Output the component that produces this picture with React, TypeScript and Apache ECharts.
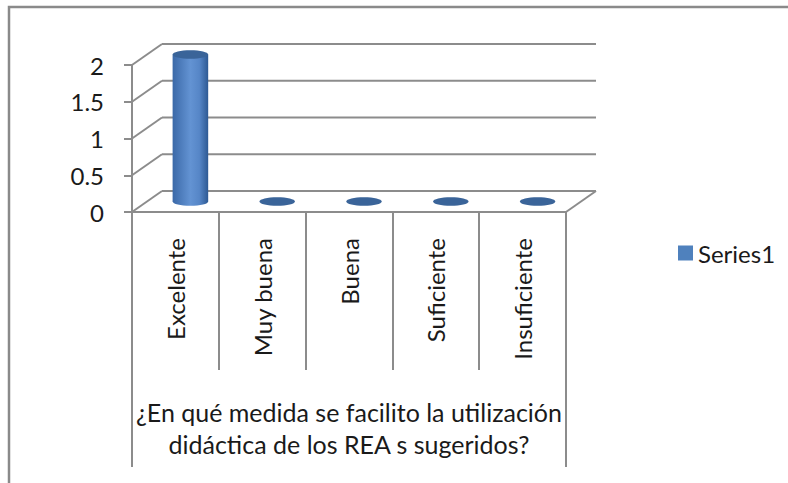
import React, { useEffect, useRef } from "react";
import * as echarts from "echarts";

const CATEGORIES = ["Excelente", "Muy buena", "Buena", "Suficiente", "Insuficiente"];
const SERIES_NAME = "Series1";
const VALUES = [2, 0, 0, 0, 0];
const Y_TICKS = [0, 0.5, 1, 1.5, 2];
const AXIS_TITLE = "¿En qué medida se facilito la utilización\ndidáctica de los REA s sugeridos?";

const DX = 30;
const DY = -21;
const LINE = "#8c8c8c";
const FONT = "Lato, 'Open Sans', sans-serif";
const TEXT = "#1a1a1a";

export default function App() {
  const ref = useRef<HTMLDivElement>(null);
  useEffect(() => {
    if (!ref.current) return;
    const chart = echarts.init(ref.current, undefined, { renderer: "svg" });
    const n = CATEGORIES.length;
    const bodyGrad = new echarts.graphic.LinearGradient(0, 0, 1, 0, [
      { offset: 0, color: "#3b69a8" },
      { offset: 0.5, color: "#6393d3" },
      { offset: 0.75, color: "#5686c7" },
      { offset: 1, color: "#2d5993" },
    ]);
    const option: any = {
      animation: false,
      backgroundColor: "#ffffff",
      textStyle: { fontFamily: FONT },
      graphic: [
        {
          type: "rect",
          shape: { x: 9, y: 7, width: 900, height: 600 },
          style: { fill: "none", stroke: "#8a8a8a", lineWidth: 2.5 },
          silent: true,
        },
      ],
      legend: {
        data: [SERIES_NAME],
        left: 673,
        top: 236,
        icon: "rect",
        itemWidth: 15,
        itemHeight: 15,
        itemGap: 4,
        textStyle: { fontSize: 24, color: TEXT, fontFamily: FONT, padding: [0, 0, 0, 0] },
      },
      grid: { left: 132, right: 222, top: 65, bottom: 271, containLabel: false },
      xAxis: {
        type: "category",
        data: CATEGORIES,
        axisLine: { show: true, lineStyle: { color: LINE, width: 2 } },
        axisTick: { show: true, interval: 0, length: 158, lineStyle: { color: LINE, width: 2 } },
        axisLabel: {
          interval: 0,
          rotate: 90,
          margin: 26,
          fontSize: 24,
          color: TEXT,
          fontFamily: FONT,
        },
        name: AXIS_TITLE,
        nameLocation: "middle",
        nameGap: 184,
        nameTextStyle: { fontSize: 25, lineHeight: 32, color: TEXT, fontFamily: FONT, align: "center" },
        splitLine: { show: false },
      },
      yAxis: {
        type: "value",
        min: 0,
        max: 2,
        interval: 0.5,
        axisLine: { show: true, lineStyle: { color: LINE, width: 2 } },
        axisTick: { show: true, length: 8, lineStyle: { color: LINE, width: 2 } },
        axisLabel: { margin: 28, fontSize: 24, color: TEXT, fontFamily: FONT },
        splitLine: { show: false },
      },
      series: [
        {
          type: "custom",
          name: "walls",
          silent: true,
          z: 1,
          data: Y_TICKS.map((v) => [0, v]),
          renderItem: (params: any, api: any) => {
            const v = api.value(1);
            const band = api.size([1, 0])[0];
            const p0 = api.coord([0, v]);
            const pN = api.coord([n - 1, v]);
            const x0 = p0[0] - band / 2;
            const x1 = pN[0] + band / 2;
            const y = p0[1];
            const ls = { stroke: LINE, lineWidth: 2 };
            const children: any[] = [
              { type: "line", shape: { x1: x0, y1: y, x2: x0 + DX, y2: y + DY }, style: ls },
              { type: "line", shape: { x1: x0 + DX, y1: y + DY, x2: x1 + DX, y2: y + DY }, style: ls },
            ];
            if (v === 0) {
              children.push({ type: "line", shape: { x1: x1, y1: y, x2: x1 + DX, y2: y + DY }, style: ls });
              children.push({ type: "line", shape: { x1: x0, y1: y, x2: x0, y2: y + 255 }, style: ls });
              children.push({ type: "line", shape: { x1: x1, y1: y, x2: x1, y2: y + 255 }, style: ls });
            }
            return { type: "group", children };
          },
        },
        {
          type: "custom",
          name: SERIES_NAME,
          z: 2,
          itemStyle: { color: "#4F81BD" },
          data: VALUES.map((v, i) => [i, v]),
          renderItem: (params: any, api: any) => {
            const i = api.value(0);
            const v = api.value(1);
            const base = api.coord([i, 0]);
            const top = api.coord([i, v]);
            const band = api.size([1, 0])[0];
            const rx = band * 0.205;
            const ry = rx * 0.24;
            const cx = base[0] + DX / 2;
            const by = base[1] + DY / 2;
            const ty = top[1] + DY / 2;
            const children: any[] = [];
            if (by - ty > 0.5) {
              children.push({ type: "ellipse", shape: { cx, cy: by, rx, ry }, style: { fill: bodyGrad } });
              children.push({
                type: "rect",
                shape: { x: cx - rx, y: ty, width: 2 * rx, height: by - ty },
                style: { fill: bodyGrad },
              });
            }
            children.push({ type: "ellipse", shape: { cx, cy: ty, rx, ry }, style: { fill: "#3a6499" } });
            return { type: "group", children };
          },
        },
      ],
    };
    chart.setOption(option);
    return () => chart.dispose();
  }, []);
  return (
    <div
      ref={ref}
      style={{ position: "fixed", left: 0, top: 0, width: 788, height: 483, background: "#fff" }}
    />
  );
}
